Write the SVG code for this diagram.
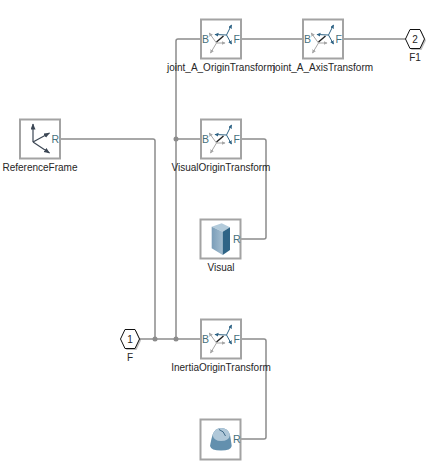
<svg xmlns="http://www.w3.org/2000/svg" width="445" height="469" viewBox="0 0 445 469">
<defs>
<linearGradient id="cyl" x1="0" x2="1" y1="0" y2="0"><stop offset="0" stop-color="#7a9db8"/><stop offset="1" stop-color="#a3bdd0"/></linearGradient>
<marker id="ab" markerWidth="5" markerHeight="5" refX="3.500" refY="2" orient="auto" markerUnits="userSpaceOnUse"><path d="M0 0L4 2L0 4z" fill="#2f6486"/></marker>
<marker id="ag" markerWidth="5" markerHeight="5" refX="3.500" refY="2" orient="auto" markerUnits="userSpaceOnUse"><path d="M0 0L4 2L0 4z" fill="#a6a6a6"/></marker>
<marker id="ad" markerWidth="7" markerHeight="7" refX="5.500" refY="2.500" orient="auto" markerUnits="userSpaceOnUse"><path d="M0 0L6 2.500L0 5z" fill="#3b4654"/></marker>
<g id="xf">
<rect class="box" x="0.500" y="0.500" width="40" height="39"/>
<path class="g" d="M16 24L8.700 14"/><path class="g" d="M16 24L10 34"/><path class="g" d="M16 24L24.500 24"/>
<path class="b" d="M26 16L31 6"/><path class="b" d="M26 16L14.500 15.500"/><path class="b" d="M26 16L31 25"/>
<path d="M16 23L23 17" stroke="#222" stroke-width="1.400" fill="none"/>
<text class="port" x="1.500" y="23.500">B</text>
<text class="port" x="33" y="23.500">F</text>
</g>
<g id="hex"><path d="M-9.500 0L-5 -9.500L5 -9.500L9.500 0L5 9.500L-5 9.500z" fill="#000" opacity="0.25" transform="translate(1.500 1.500)"/><path d="M-9.500 0L-5 -9.500L5 -9.500L9.500 0L5 9.500L-5 9.500z" fill="#fff" stroke="#111" stroke-width="1"/></g>
</defs>
<style>
text{font-family:"Liberation Sans",Arial,sans-serif;font-size:10px;fill:#262626}
.lab{text-anchor:middle}
.port{fill:#46707c;font-size:10.500px}
.box{fill:#fff;stroke:#a3a3a3;stroke-width:2}
.w{fill:none;stroke:#8c8c8c;stroke-width:1.500;stroke-linejoin:round}
.g{fill:none;stroke:#a6a6a6;stroke-width:1;marker-end:url(#ag)}
.b{fill:none;stroke:#2f6486;stroke-width:1;marker-end:url(#ab)}
.d{fill:none;stroke:#3b4654;stroke-width:1.200;marker-end:url(#ad)}
.j{fill:#8c8c8c}
</style>
<g id="connectors">
<path class="w" d="M200 39H178Q176 39 176 41V339"/>
<path class="w" d="M241 39H302"/>
<path class="w" d="M343 39H406"/>
<path class="w" d="M60 139H153Q155 139 155 141V339"/>
<path class="w" d="M139 339H200"/>
<path class="w" d="M176 139H200"/>
<path class="w" d="M241 139H264Q266 139 266 141V237Q266 239 264 239H241"/>
<path class="w" d="M241 339H264Q266 339 266 341V437Q266 439 264 439H241"/>
<circle class="j" cx="176" cy="139" r="2.500"/>
<circle class="j" cx="155" cy="339" r="2.500"/>
<circle class="j" cx="176" cy="339" r="2.500"/>
</g>
<g id="joint_A_OriginTransform"><use href="#xf" x="200.500" y="19"/><text class="lab" x="221" y="71">joint_A_OriginTransform</text></g>
<g id="joint_A_AxisTransform"><use href="#xf" x="302.500" y="19"/><text class="lab" x="323" y="71">joint_A_AxisTransform</text></g>
<g id="F1"><use href="#hex" x="415" y="39"/><text class="lab" x="415" y="43">2</text><text class="lab" x="415" y="61">F1</text></g>
<g id="ReferenceFrame">
<rect class="box" x="20" y="119.500" width="40" height="39"/>
<path class="d" d="M33 142V124"/>
<path class="d" d="M33 142L49.500 133"/>
<path class="d" d="M33 142L49.500 153"/>
<text class="port" x="51.500" y="143">R</text>
<text class="lab" x="40" y="171">ReferenceFrame</text>
</g>
<g id="VisualOriginTransform"><use href="#xf" x="200.500" y="119"/><text class="lab" x="221" y="171">VisualOriginTransform</text></g>
<g id="Visual">
<rect class="box" x="200.500" y="219.500" width="40" height="39"/>
<path d="M211.700 226.700L221.700 223.300L230 227.300L222.700 231.700z" fill="#b3cbdb"/>
<path d="M211.700 226.700L222.700 231.700V255L211.700 248.300z" fill="url(#cyl)"/>
<path d="M222.700 231.700L230 227.300V250L222.700 255z" fill="#2f6486"/>
<text class="port" x="233" y="243">R</text>
<text class="lab" x="221" y="271">Visual</text>
</g>
<g id="InertiaOriginTransform"><use href="#xf" x="200.500" y="319"/><text class="lab" x="221" y="371">InertiaOriginTransform</text></g>
<g id="F"><use href="#hex" x="130" y="339"/><text class="lab" x="130" y="343">1</text><text class="lab" x="130" y="361">F</text></g>
<g id="Inertia">
<rect class="box" x="200.500" y="419.500" width="40" height="40"/>
<path d="M210 446Q211 440 212.500 435Q215 428 221 428Q228 428 230 435Q231 440 231.700 446Q231 450.500 221 450.500Q211 450.500 210 446z" fill="#6390ae"/>
<path d="M212.500 435Q215 428 221 428Q228 428 230 435Q229 441 221 441Q214 441 212.500 435z" fill="#b0c8d9"/>
<path d="M219 429.500Q224 431 225.500 436" fill="none" stroke="#3f6a88" stroke-width="1"/>
<text class="port" x="233" y="443">R</text>
</g>
</svg>
